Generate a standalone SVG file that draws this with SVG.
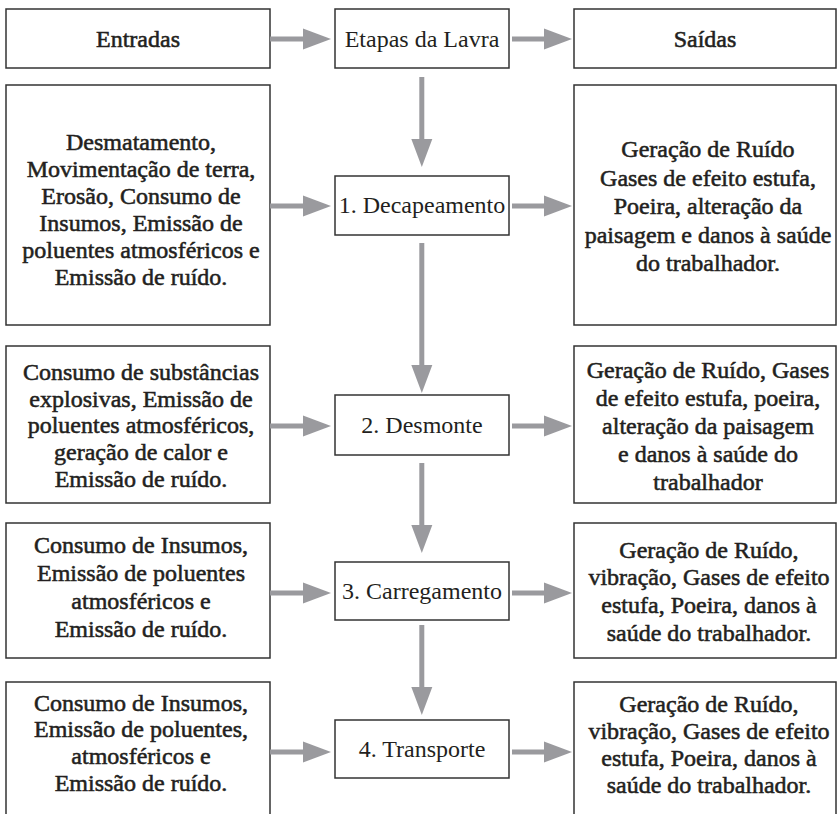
<svg xmlns="http://www.w3.org/2000/svg" width="837" height="814" viewBox="0 0 837 814">
<style>
.box{fill:#fff;stroke:#333;stroke-width:1.5}
.t{font-size:24px;fill:#231f20;text-anchor:middle;stroke:#231f20;stroke-width:0.55}
.c{font-size:24px;fill:#231f20;text-anchor:middle}
.arr{stroke:#9a9a9e;stroke-width:5;fill:none;marker-end:url(#ah)}
</style>
<defs>
<marker id="ah" markerUnits="userSpaceOnUse" markerWidth="28" markerHeight="22" refX="8" refY="11" orient="auto" overflow="visible">
<path d="M0,0.5 L28,11 L0,21.5 Z" fill="#9a9a9e"/>
</marker>
</defs>
<rect width="837" height="814" fill="#fff"/>
<g font-family="Liberation Serif, DejaVu Serif, serif">
<g id="entradas"><rect class="box" x="6" y="9" width="264" height="59"/><text class="t" x="138" y="47">Entradas</text></g>
<g id="etapas"><rect class="box" x="335" y="9" width="174" height="59"/><text class="c" x="422" y="47">Etapas da Lavra</text></g>
<g id="saidas"><rect class="box" x="574" y="9" width="262" height="59"/><text class="t" x="705" y="47">Saídas</text></g>

<g id="in1"><rect class="box" x="6" y="85" width="264" height="240"/>
<text class="t" x="141"><tspan x="141" y="150">Desmatamento,</tspan><tspan x="141" y="177">Movimentação de terra,</tspan><tspan x="141" y="204">Erosão, Consumo de</tspan><tspan x="141" y="231">Insumos, Emissão de</tspan><tspan x="141" y="258">poluentes atmosféricos e</tspan><tspan x="141" y="285">Emissão de ruído.</tspan></text></g>
<g id="step1"><rect class="box" x="335" y="176" width="174" height="59"/><text class="c" x="422" y="213">1. Decapeamento</text></g>
<g id="out1"><rect class="box" x="574" y="85" width="262" height="240"/>
<text class="t" x="708"><tspan x="708" y="157">Geração de Ruído</tspan><tspan x="708" y="186">Gases de efeito estufa,</tspan><tspan x="708" y="214">Poeira, alteração da</tspan><tspan x="708" y="243">paisagem e danos à saúde</tspan><tspan x="708" y="271">do trabalhador.</tspan></text></g>

<g id="in2"><rect class="box" x="6" y="346" width="264" height="157"/>
<text class="t" x="141"><tspan x="141" y="380">Consumo de substâncias</tspan><tspan x="141" y="407">explosivas, Emissão de</tspan><tspan x="141" y="433">poluentes atmosféricos,</tspan><tspan x="141" y="460">geração de calor e</tspan><tspan x="141" y="487">Emissão de ruído.</tspan></text></g>
<g id="step2"><rect class="box" x="335" y="395" width="174" height="60"/><text class="c" x="422" y="433">2. Desmonte</text></g>
<g id="out2"><rect class="box" x="574" y="346" width="262" height="157"/>
<text class="t" x="708"><tspan x="708" y="378">Geração de Ruído, Gases</tspan><tspan x="708" y="406">de efeito estufa, poeira,</tspan><tspan x="708" y="434">alteração da paisagem</tspan><tspan x="708" y="462">e danos à saúde do</tspan><tspan x="708" y="490">trabalhador</tspan></text></g>

<g id="in3"><rect class="box" x="6" y="523" width="264" height="135"/>
<text class="t" x="141"><tspan x="141" y="553">Consumo de Insumos,</tspan><tspan x="141" y="581">Emissão de poluentes</tspan><tspan x="141" y="609">atmosféricos e</tspan><tspan x="141" y="637">Emissão de ruído.</tspan></text></g>
<g id="step3"><rect class="box" x="335" y="562" width="174" height="58"/><text class="c" x="422" y="599">3. Carregamento</text></g>
<g id="out3"><rect class="box" x="574" y="523" width="262" height="135"/>
<text class="t" x="709"><tspan x="709" y="558">Geração de Ruído,</tspan><tspan x="709" y="585">vibração, Gases de efeito</tspan><tspan x="709" y="613">estufa, Poeira, danos à</tspan><tspan x="709" y="641">saúde do trabalhador.</tspan></text></g>

<g id="in4"><rect class="box" x="6" y="682" width="264" height="150"/>
<text class="t" x="141"><tspan x="141" y="711">Consumo de Insumos,</tspan><tspan x="141" y="737">Emissão de poluentes,</tspan><tspan x="141" y="764">atmosféricos e</tspan><tspan x="141" y="791">Emissão de ruído.</tspan></text></g>
<g id="step4"><rect class="box" x="335" y="720" width="174" height="58"/><text class="c" x="422" y="757">4. Transporte</text></g>
<g id="out4"><rect class="box" x="574" y="682" width="262" height="150"/>
<text class="t" x="709"><tspan x="709" y="712">Geração de Ruído,</tspan><tspan x="709" y="739">vibração, Gases de efeito</tspan><tspan x="709" y="766">estufa, Poeira, danos à</tspan><tspan x="709" y="793">saúde do trabalhador.</tspan></text></g>
</g>
<g id="connectors">
<line class="arr" x1="270" y1="39" x2="311" y2="39"/>
<line class="arr" x1="512" y1="39" x2="552" y2="39"/>
<line class="arr" x1="270" y1="206" x2="311" y2="206"/>
<line class="arr" x1="512" y1="206" x2="552" y2="206"/>
<line class="arr" x1="270" y1="426" x2="311" y2="426"/>
<line class="arr" x1="512" y1="426" x2="552" y2="426"/>
<line class="arr" x1="270" y1="593" x2="311" y2="593"/>
<line class="arr" x1="512" y1="593" x2="552" y2="593"/>
<line class="arr" x1="270" y1="752" x2="311" y2="752"/>
<line class="arr" x1="512" y1="752" x2="552" y2="752"/>
<line class="arr" x1="421.8" y1="77" x2="421.8" y2="147"/>
<line class="arr" x1="421.8" y1="243" x2="421.8" y2="373"/>
<line class="arr" x1="421.8" y1="463" x2="421.8" y2="533"/>
<line class="arr" x1="421.8" y1="625" x2="421.8" y2="695"/>
</g>
</svg>
